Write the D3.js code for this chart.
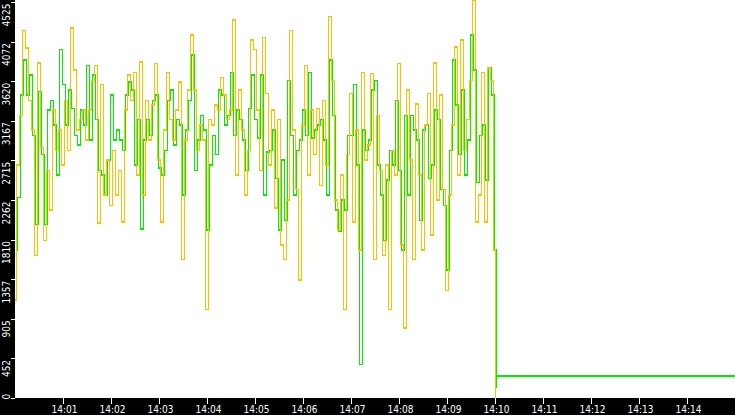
<!DOCTYPE html>
<html>
<head>
<meta charset="utf-8">
<script src="https://cdn.jsdelivr.net/npm/d3@7"></script>
<style>
  html, body { margin: 0; padding: 0; background: #fff; }
  svg { display: block; }
  .axis text { fill: #fff; font-family: "DejaVu Sans Condensed", "DejaVu Sans", sans-serif; font-size: 10px; }
  .axis line { stroke: #fff; }
  .axis path { display: none; }
</style>
</head>
<body>
<svg id="chart" width="735" height="415"></svg>
<script>
// Samples, one every 3.75 s from 14:00:00
const sampleStepSec = 3.75;
const greenOffsetSec = 1.25;

const orangeValues = [
  1120, 2660, 3230, 4200, 4000, 3400, 3060, 1630, 3830, 2860,
  1800, 2600, 2150, 3290, 2830, 3060, 2660, 3400, 2830, 4230,
  3750, 3060, 3180, 3290, 2950, 3290, 3630, 3800, 2000, 3580,
  2320, 2720, 2200, 2830, 2320, 2600, 2010, 3290, 3690, 3400,
  3720, 2550, 3840, 2320, 3400, 2950, 3350, 3820, 2720, 2010,
  3060, 3720, 3180, 2950, 3290, 3610, 1580, 2950, 3520, 4150,
  3520, 2830, 3120, 2950, 1010, 3180, 3120, 3350, 3290, 3660,
  3460, 3180, 3290, 4320, 2550, 3520, 3060, 2320, 2830, 4090,
  3980, 3290, 2600, 4120, 3480, 2660, 3290, 2170, 3180, 1750,
  1580, 2260, 4200, 3060, 2380, 1350, 3120, 3800, 2550, 3290,
  2780, 3310, 2430, 3400, 2660, 4360, 3630, 2260, 1920, 2550,
  1010, 2780, 3480, 2010, 3060, 1690, 3720, 2720, 2890, 3710,
  1580, 3230, 2600, 1630, 2660, 1010, 2830, 2550, 3820, 1750,
  800, 3520, 2720, 1580, 3360, 2550, 1690, 3120, 3480, 1860,
  3830, 2260, 3460, 2380, 1230, 2320, 3120, 4010, 2550, 4090,
  2830, 3180, 3630, 4550, 2010, 2320, 3720, 2010, 3770, 3630,
  1690
];

const greenValues = [
  1690, 2290, 3460, 3860, 3460, 3690, 3000, 1980, 3500, 2780,
  1980, 3290, 3400, 3120, 2550, 3980, 3580, 3120, 3520, 3310,
  3000, 2890, 3290, 3120, 3800, 2950, 3690, 3180, 2600, 2550,
  2320, 2720, 3460, 2950, 3060, 2950, 2830, 3460, 3610, 3520,
  2660, 3180, 1930, 2950, 3180, 3000, 3400, 3460, 2630, 2550,
  2830, 3400, 3520, 2890, 3180, 3120, 2320, 3060, 3400, 3920,
  2600, 2950, 3230, 3060, 1920, 2660, 3000, 2780, 3520, 3460,
  3120, 3230, 3720, 3000, 3290, 3180, 2950, 2600, 3310, 3690,
  3180, 2970, 3690, 2320, 2810, 2830, 3060, 2510, 1920, 2720,
  2030, 3630, 3000, 2320, 2830, 2950, 3290, 3000, 3720, 2970,
  3060, 3120, 3180, 2950, 2320, 3860, 3230, 2150, 1900, 2260,
  2150, 3000, 3000, 3580, 2660, 380, 3060, 2830, 2950, 3520,
  3630, 2660, 2320, 1800, 2490, 2830, 2660, 3400, 2600, 1690,
  3230, 2320, 3230, 3060, 2950, 2030, 3060, 3120, 2510, 2660,
  3290, 3180, 2380, 2200, 1460, 2830, 3860, 3350, 2780, 3520,
  2550, 2950, 4150, 3750, 2460, 3000, 3120, 2490, 3770, 3460,
  1690
];

// After 14:10 the orange series drops to zero, green settles at a flat level
const orangeTailSec = [601];
const orangeTailValues = [0];
const greenTailSec = [601, 602, 900];
const greenTailValues = [126, 250, 250];

const yTickValues = [0, 452.5, 905, 1357.5, 1810, 2262.5, 2715, 3167.5, 3620, 4072.5, 4525];
const yTickLabels = ['0', '452', '905', '1357', '1810', '2262', '2715', '3167', '3620', '4072', '4525'];

const start = new Date(2024, 0, 1, 14, 0, 0);
const end = new Date(2024, 0, 1, 14, 15, 0);
const atSec = (s) => new Date(start.getTime() + s * 1000);

const orangeData = orangeValues.map((v, i) => ({ t: atSec(i * sampleStepSec), v }))
  .concat(orangeTailSec.map((s, i) => ({ t: atSec(s), v: orangeTailValues[i] })));
const greenData = greenValues.map((v, i) => ({ t: atSec(i * sampleStepSec + greenOffsetSec), v }))
  .concat(greenTailSec.map((s, i) => ({ t: atSec(s), v: greenTailValues[i] })));

// Layout
const width = 735;
const height = 415;
const left = 15;
const bottom = 398;

const svg = d3.select('#chart');

svg.append('rect').attr('x', 0).attr('y', 0).attr('width', width).attr('height', height).attr('fill', '#fff');

const x = d3.scaleTime().domain([start, end]).range([left, width]);
const y = d3.scaleLinear().domain([0, 4525]).range([bottom, 2]);

svg.append('clipPath').attr('id', 'plot-clip')
  .append('rect').attr('x', left).attr('y', 0).attr('width', width - left).attr('height', bottom);

const plot = svg.append('g').attr('clip-path', 'url(#plot-clip)');

// step curve gives the vertical-bar look of the original
const line = d3.line().curve(d3.curveStep).x((d) => x(d.t)).y((d) => y(d.v));

plot.append('path')
  .datum(greenData)
  .attr('d', line)
  .attr('fill', 'none')
  .attr('stroke', '#00ee00')
  .attr('stroke-width', 1.5)
  .attr('shape-rendering', 'crispEdges');

plot.append('path')
  .datum(orangeData)
  .attr('d', line)
  .attr('fill', 'none')
  .attr('stroke', '#ffc000')
  .attr('stroke-width', 1.5)
  .attr('shape-rendering', 'crispEdges');

// Black bands for the axes
svg.append('rect').attr('x', 0).attr('y', 0).attr('width', left).attr('height', height).attr('fill', '#000');
svg.append('rect').attr('x', 0).attr('y', bottom).attr('width', width).attr('height', height - bottom).attr('fill', '#000');

// Y axis
const yAxis = svg.append('g')
  .attr('class', 'axis')
  .attr('transform', `translate(${left},0)`)
  .call(d3.axisLeft(y).tickValues(yTickValues).tickFormat((d, i) => yTickLabels[i]).tickSize(4));

yAxis.selectAll('line').attr('shape-rendering', 'crispEdges');
yAxis.selectAll('text')
  .attr('transform', 'rotate(-90)')
  .attr('dy', 0)
  .attr('y', -5)
  .attr('x', -1)
  .style('text-anchor', (d) => (d === 0 ? 'start' : 'end'));

// X axis
const minuteTicks = d3.timeMinute.range(atSec(60), end);
const xAxis = svg.append('g')
  .attr('class', 'axis')
  .attr('transform', `translate(0,${bottom})`)
  .call(d3.axisBottom(x).tickValues(minuteTicks).tickFormat(d3.timeFormat('%H:%M')).tickSize(6));

xAxis.selectAll('line').attr('shape-rendering', 'crispEdges');
xAxis.selectAll('text').attr('x', 1).attr('y', 8);
</script>
</body>
</html>
